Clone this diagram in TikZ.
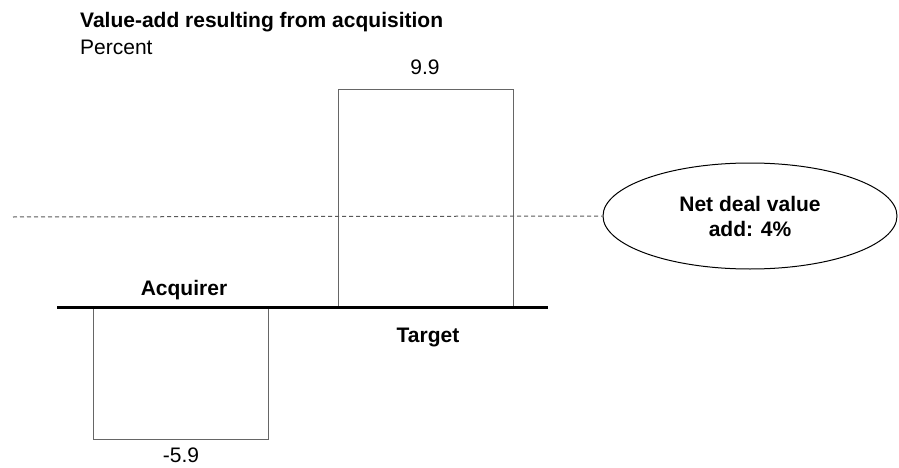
\documentclass[tikz,border=0pt]{standalone}
\usepackage{fontspec}
\setmainfont{Liberation Sans}
\usetikzlibrary{shapes.geometric}

\tikzset{
  bar/.style={draw=gray!80!black, line width=1pt, minimum width=175pt, inner sep=0pt},
  lbl/.style={font=\fontsize{21}{25}\selectfont, inner sep=0pt},
  blbl/.style={inner sep=0pt, font=\fontsize{21}{25}\selectfont\bfseries},
}

\begin{document}
\begin{tikzpicture}[x=1pt, y=-1pt]
    \useasboundingbox (0,0) rectangle (899,468);

    \coordinate (L) at (57,307);
    \coordinate (R) at (548,307);
    \coordinate (D) at (13,217);

    % bars
    \node[bar, minimum height=217pt, anchor=south west] (tgt) at (338,307) {};
    \node[bar, minimum height=131pt, anchor=north west] (acq) at (93,308) {};

    \draw[line width=3pt] (L) -- (R);

    % net value
    \node[ellipse, draw, line width=1pt, minimum width=294pt, minimum height=106pt,
          align=center, blbl] (net) at (750,216) {Net deal value\\add: 4\%};
    \draw[gray!70!black, line width=1pt, dash pattern=on 4pt off 3pt] (D) -- (net.west);

    \node[blbl, anchor=base west] (ttl) at (80,28) {Value-add resulting from acquisition};
    \node[lbl, anchor=base west] (unit) at (80,55) {Percent};

    \node[lbl, anchor=base] (vtgt) at (425,75) {9.9};
    \node[lbl, anchor=base] (vacq) at (181,462) {-5.9};
    \node[blbl, anchor=base] (nacq) at (184,295) {Acquirer};
    \node[blbl, anchor=base] (ntgt) at (428,342) {Target};
\end{tikzpicture}
\end{document}
